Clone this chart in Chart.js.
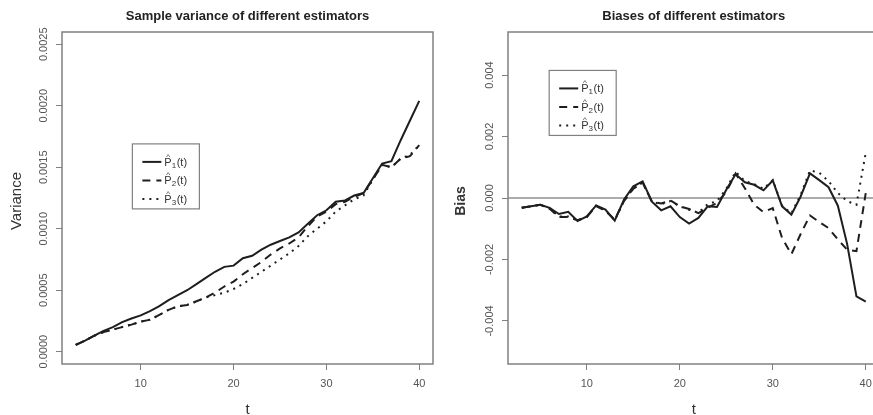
<!DOCTYPE html>
<html>
<head>
<meta charset="utf-8">
<title>Estimators</title>
<script src="https://cdn.jsdelivr.net/npm/chart.js@4.4.1/dist/chart.umd.min.js"></script>
<style>
	html, body { margin: 0; padding: 0; background: #fff; width: 873px; height: 415px; overflow: hidden; }
	canvas { position: absolute; top: 0; }
	#variance { left: 0; }
	#bias { left: 440px; }
</style>
</head>
<body>
<canvas id="variance" width="440" height="415" style="width:440px;height:415px"></canvas>
<canvas id="bias" width="445" height="415" style="width:445px;height:415px"></canvas>
<script>
var t = [3, 4, 5, 6, 7, 8, 9, 10, 11, 12, 13, 14, 15, 16, 17, 18, 19, 20, 21, 22,
	23, 24, 25, 26, 27, 28, 29, 30, 31, 32, 33, 34, 35, 36, 37, 38, 39, 40];

// sample variance
var varP1 = [0.000055, 0.00009, 0.00013, 0.00017, 0.0002, 0.00024, 0.00027, 0.000295, 0.00033, 0.00037,
	0.00042, 0.00046, 0.0005, 0.00055, 0.0006, 0.00065, 0.00069, 0.0007, 0.00076, 0.00078,
	0.00083, 0.00087, 0.0009, 0.00093, 0.00097, 0.00104, 0.00111, 0.00115, 0.00122, 0.00123,
	0.00127, 0.00129, 0.00141, 0.00153, 0.00155, 0.00172, 0.00188, 0.00204];
var varP2 = [0.000055, 0.00009, 0.00013, 0.00016, 0.00018, 0.0002, 0.00022, 0.000245, 0.00026, 0.0003,
	0.00034, 0.00037, 0.00038, 0.00041, 0.00044, 0.00048, 0.00053, 0.00057, 0.00063, 0.00068,
	0.00073, 0.00079, 0.00084, 0.00088, 0.00093, 0.00102, 0.0011, 0.00114, 0.0012, 0.00122,
	0.00126, 0.00129, 0.0014, 0.00152, 0.0015, 0.00157, 0.00159, 0.00168];
var varP3 = [0.000055, 0.00009, 0.00013, 0.00016, 0.00018, 0.0002, 0.00022, 0.000245, 0.00026, 0.0003,
	0.00034, 0.00037, 0.00038, 0.00041, 0.00044, 0.00046, 0.00048, 0.00051, 0.00055, 0.0006,
	0.00065, 0.0007, 0.00075, 0.0008, 0.00086, 0.00094, 0.001, 0.00106, 0.00114, 0.00119,
	0.00124, 0.00127, 0.0014, 0.00152, 0.0015, 0.00157, 0.0016, 0.00168];

// bias
var biasP1 = [-0.00032, -0.00027, -0.00022, -0.00032, -0.00052, -0.00045, -0.00075, -0.0006, -0.00024, -0.00038,
	-0.00074, -0.00005, 0.00038, 0.00054, -0.00012, -0.0004, -0.00027, -0.00062, -0.00083, -0.00065,
	-0.00027, -0.00029, 0.00027, 0.00077, 0.00051, 0.00043, 0.00025, 0.00057, -0.00027, -0.00054,
	0.00005, 0.0008, 0.00058, 0.00035, -0.00025, -0.0015, -0.0032, -0.00337];
var biasP2 = [-0.00032, -0.00027, -0.00022, -0.00035, -0.00062, -0.00062, -0.00072, -0.00062, -0.00026, -0.00042,
	-0.0007, -0.0001, 0.0003, 0.0005, -0.00012, -0.00018, -0.00008, -0.00027, -0.00036, -0.00049,
	-0.00032, -0.00016, 0.0002, 0.0008, 0.00032, -0.00022, -0.00046, -0.00033, -0.0013, -0.00183,
	-0.00117, -0.00057, -0.00078, -0.00098, -0.00135, -0.00168, -0.00173, 0.00016];
var biasP3 = [-0.00032, -0.00027, -0.00022, -0.00034, -0.0006, -0.0006, -0.00073, -0.00061, -0.00025, -0.0004,
	-0.00072, -0.0001, 0.00032, 0.0005, -0.00012, -0.0002, -0.0001, -0.00027, -0.00038, -0.00048,
	-0.0002, -0.0001, 0.0003, 0.00085, 0.00055, 0.00045, 0.0003, 0.00058, -0.00025, -0.0005,
	0.0001, 0.0009, 0.00082, 0.00055, 0.00016, -0.0001, -0.00022, 0.00147];

var xTicks = [10, 20, 30, 40];
var varTicks = [0, 0.0005, 0.001, 0.0015, 0.002, 0.0025];
var biasTicks = [-0.004, -0.002, 0, 0.002, 0.004];
var subscripts = ['1', '2', '3'];
var dashes = [[], [8, 6], [2, 5]];

var FONT = '"Liberation Sans", Arial, sans-serif';
var INK = '#1e1e1e';
var FRAME = '#808080';

function points(values) {
	return t.map(function (v, i) {
		return {x: v, y: values[i]};
	});
}

function makeDatasets(series) {
	return series.map(function (values, i) {
		return {
			data: points(values),
			borderColor: INK,
			borderWidth: 2,
			borderDash: dashes[i],
			borderCapStyle: 'butt',
			pointRadius: 0,
			tension: 0,
			fill: false
		};
	});
}

// hat(P)[i](t) written out by hand
function drawEstimator(ctx, x, y, sub) {
	ctx.textBaseline = 'alphabetic';
	ctx.textAlign = 'left';
	ctx.font = '11px ' + FONT;
	var base = y + 4;
	ctx.fillText('P', x, base);
	var pw = ctx.measureText('P').width;
	ctx.font = '8px ' + FONT;
	ctx.textAlign = 'center';
	ctx.fillText('^', x + pw / 2, base - 7);
	ctx.textAlign = 'left';
	ctx.fillText(sub, x + pw, base + 2);
	var sw = ctx.measureText(sub).width;
	ctx.font = '11px ' + FONT;
	ctx.fillText('(t)', x + pw + sw + 0.5, base);
}

var rPlot = {
	id: 'rPlot',
	beforeDatasetsDraw: function (chart, args, opts) {
		if (!opts.zeroLine) return;
		var a = chart.chartArea;
		var y0 = chart.scales.y.getPixelForValue(0);
		var ctx = chart.ctx;
		ctx.save();
		ctx.strokeStyle = '#909090';
		ctx.lineWidth = 1.5;
		ctx.beginPath();
		ctx.moveTo(a.left, y0);
		ctx.lineTo(a.right, y0);
		ctx.stroke();
		ctx.restore();
	},
	afterDraw: function (chart, args, opts) {
		var ctx = chart.ctx;
		var a = chart.chartArea;
		var xs = chart.scales.x, ys = chart.scales.y;
		var cx = (a.left + a.right) / 2;
		ctx.save();

		ctx.strokeStyle = FRAME;
		ctx.lineWidth = 1.5;
		ctx.strokeRect(a.left, a.top, a.right - a.left, a.bottom - a.top);

		ctx.fillStyle = '#222';
		ctx.textAlign = 'center';
		ctx.textBaseline = 'middle';
		ctx.font = 'bold 13px ' + FONT;
		ctx.fillText(opts.title, cx, 16);

		ctx.font = '15px ' + FONT;
		ctx.fillStyle = '#333';
		ctx.fillText('t', cx, 410);

		// y axis: rotated tick labels and title
		ctx.fillStyle = '#555';
		ctx.font = '11px ' + FONT;
		ys.ticks.forEach(function (tk) {
			ctx.save();
			ctx.translate(a.left - 18, ys.getPixelForValue(tk.value));
			ctx.rotate(-Math.PI / 2);
			ctx.fillText(tk.value.toFixed(opts.digits), 0, 0);
			ctx.restore();
		});
		ctx.save();
		ctx.fillStyle = '#333';
		ctx.font = opts.yFont + ' ' + FONT;
		ctx.translate(a.left - opts.yTitleGap, (a.top + a.bottom) / 2 + 3);
		ctx.rotate(-Math.PI / 2);
		ctx.fillText(opts.yTitle, 0, 0);
		ctx.restore();

		// legend box anchored in data units
		var lx = xs.getPixelForValue(opts.legendAt[0]);
		var ly = ys.getPixelForValue(opts.legendAt[1]);
		ctx.strokeStyle = FRAME;
		ctx.lineWidth = 1.2;
		ctx.strokeRect(lx, ly, 67, 65);
		subscripts.forEach(function (s, i) {
			var ry = ly + 18 + i * 18.5;
			ctx.save();
			ctx.strokeStyle = INK;
			ctx.lineWidth = 2;
			ctx.setLineDash(dashes[i]);
			ctx.beginPath();
			ctx.moveTo(lx + 10, ry);
			ctx.lineTo(lx + 29, ry);
			ctx.stroke();
			ctx.restore();
			ctx.fillStyle = '#333';
			drawEstimator(ctx, lx + 32, ry, s);
		});
		ctx.restore();
	}
};

function makeChart(id, series, yMin, yMax, yTicks, plotOpts, rightPad) {
	return new Chart(document.getElementById(id).getContext('2d'), {
		type: 'line',
		data: {datasets: makeDatasets(series)},
		plugins: [rPlot],
		options: {
			responsive: false,
			animation: false,
			events: [],
			layout: {padding: {top: 32, right: rightPad, left: 0, bottom: 0}},
			plugins: {
				legend: {display: false},
				tooltip: {enabled: false},
				rPlot: plotOpts
			},
			scales: {
				x: {
					type: 'linear',
					min: 1.52,
					max: 41.48,
					afterBuildTicks: function (s) {
						s.ticks = xTicks.map(function (v) { return {value: v}; });
					},
					afterFit: function (s) { s.height = 51; },
					border: {display: false},
					grid: {drawOnChartArea: false, tickLength: 6, color: FRAME, lineWidth: 1},
					ticks: {color: '#555', font: {size: 11, family: FONT}, padding: 7, maxRotation: 0, autoSkip: false}
				},
				y: {
					type: 'linear',
					min: yMin,
					max: yMax,
					afterBuildTicks: function (s) {
						s.ticks = yTicks.map(function (v) { return {value: v}; });
					},
					afterFit: function (s) { s.width = plotOpts.yWidth; },
					border: {display: false},
					grid: {drawOnChartArea: false, tickLength: 6, color: FRAME, lineWidth: 1},
					ticks: {display: false}
				}
			}
		}
	});
}

makeChart('variance', [varP1, varP2, varP3], -0.0001, 0.0026, varTicks, {
	title: 'Sample variance of different estimators',
	yTitle: 'Variance',
	yFont: '15px',
	yTitleGap: 45,
	yWidth: 62,
	digits: 4,
	legendAt: [9.1, 0.00169],
	zeroLine: false
}, 7);

makeChart('bias', [biasP1, biasP2, biasP3], -0.0054, 0.0054, biasTicks, {
	title: 'Biases of different estimators',
	yTitle: 'Bias',
	yFont: 'bold 14px',
	yTitleGap: 47,
	yWidth: 68,
	digits: 3,
	legendAt: [5.95, 0.00415],
	zeroLine: true
}, 5.5);
</script>
</body>
</html>
